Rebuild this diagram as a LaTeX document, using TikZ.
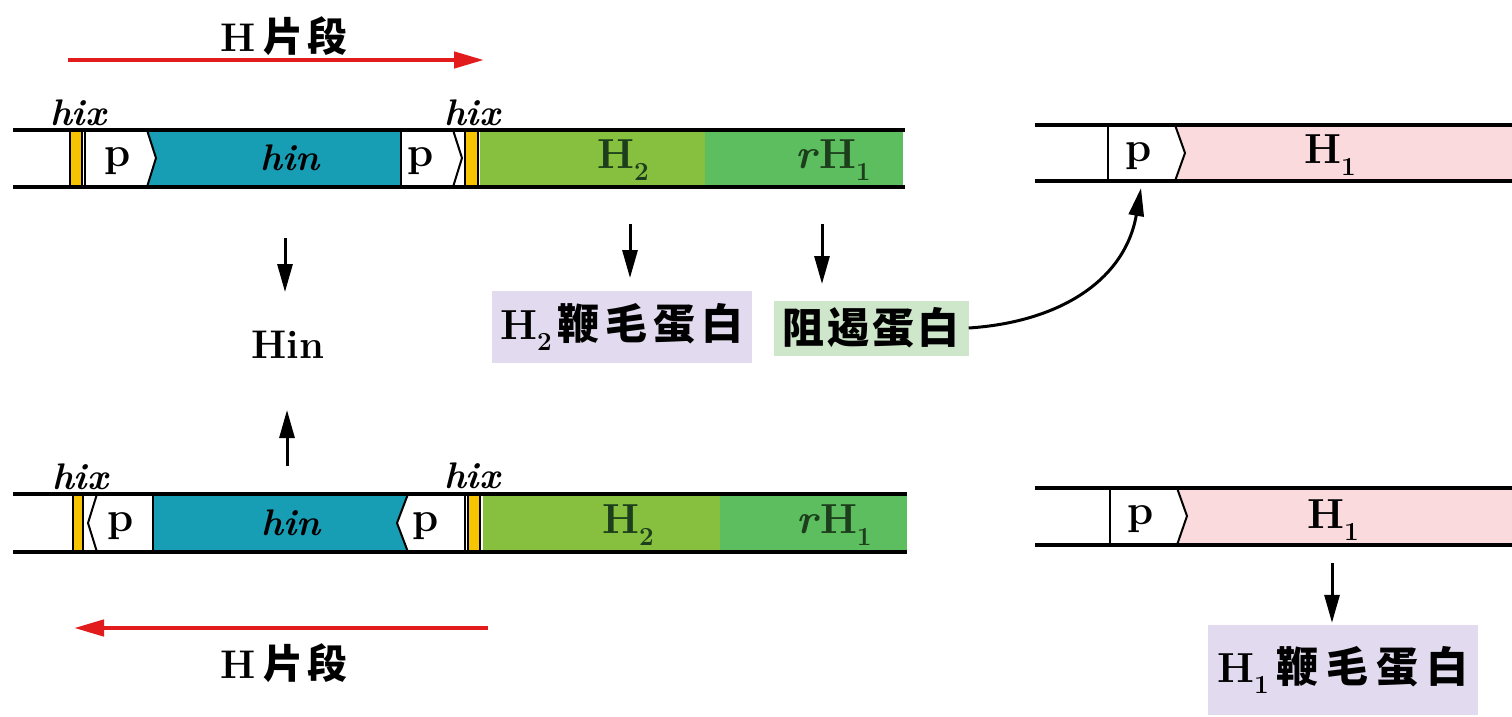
\documentclass[tikz,border=0pt]{standalone}
\usepackage{fontspec}
\newfontfamily\cjk{Noto Sans CJK SC}
\usetikzlibrary{arrows.meta}
\definecolor{hinc}{RGB}{24,158,180}
\definecolor{htwo}{RGB}{134,192,62}
\definecolor{rhone}{RGB}{92,190,94}
\definecolor{hixc}{RGB}{246,196,0}
\definecolor{pinkc}{RGB}{250,218,220}
\definecolor{lavc}{RGB}{226,218,238}
\definecolor{repc}{RGB}{206,230,202}
\definecolor{redc}{RGB}{226,28,28}
\definecolor{dgreen}{RGB}{28,62,28}
\newcommand\mysub[1]{\raisebox{-0.28em}{\scalebox{0.62}{#1}}}
\begin{document}
\begin{tikzpicture}[x=1pt,y=-1pt,
  strand/.style={line width=3.5pt,black,line cap=butt},
  edgeline/.style={line width=2pt,black},
  arr/.style={line width=3pt,-{Triangle[length=28pt,width=15pt]}},
  redarr/.style={line width=4.5pt,redc,-{Triangle[length=30pt,width=16pt]}},
  lbl/.style={inner sep=0pt,font=\fontsize{42}{46}\selectfont\bfseries},
  ital/.style={inner sep=0pt,font=\fontsize{37}{40}\selectfont\bfseries\itshape},
  pl/.style={inner sep=0pt,font=\fontsize{42}{44}\selectfont\bfseries},
  cjkbox/.style={inner sep=0pt,font=\fontsize{42}{46}\selectfont\cjk\bfseries}]
\useasboundingbox (0,0) rectangle (1512,716);

% ===== top row =====
\fill[hixc] (70,130) rectangle (82,187);
\draw[edgeline] (70,130) -- (70,187) (82,130) -- (82,187);
\fill[hinc] (148,130) -- (400,130) -- (400,187) -- (148,187) -- (156,158) -- cycle;
\draw[edgeline] (85,130) -- (85,187);
\draw[edgeline] (147,130) -- (156,158) -- (147,187);
\draw[edgeline] (401,130) -- (401,187);
\draw[edgeline] (453,130) -- (462,158) -- (453,187);
\fill[hixc] (465,130) rectangle (478,187);
\draw[edgeline] (465,130) -- (465,187) (478,130) -- (478,187);
\fill[htwo] (480,130) rectangle (705,187);
\fill[rhone] (705,130) rectangle (903,187);
\draw[strand] (13,130) -- (905,130);
\draw[strand] (13,187) -- (905,187);

\node[ital] (hixA) at (78,113) {hix};
\node[ital] (hixB) at (472,113) {hix};
\node[pl] (pA) at (118,161) {p};
\node[pl] (pB) at (421,161) {p};
\node[ital] (hinA) at (290,158) {hin};
\node[lbl,text=dgreen] (htwoA) at (623,160) {H\mysub{2}};
\node[lbl,text=dgreen] (rhA) at (833,160) {\textit{r}H\mysub{1}};

% ===== bottom row =====
\fill[hixc] (73,494) rectangle (83,552);
\draw[edgeline] (73,494) -- (73,552) (83,494) -- (83,552);
\draw[edgeline] (97,494) -- (88,523) -- (97,552);
\fill[hinc] (153,494) -- (408,494) -- (397,523) -- (408,552) -- (153,552) -- cycle;
\draw[edgeline] (153,494) -- (153,552);
\draw[edgeline] (408,494) -- (397,523) -- (408,552);
\draw[edgeline] (465,494) -- (465,552);
\fill[hixc] (468,494) rectangle (480,552);
\draw[edgeline] (468,494) -- (468,552) (480,494) -- (480,552);
\fill[htwo] (483,494) rectangle (720,552);
\fill[rhone] (720,494) rectangle (907,552);
\draw[strand] (13,494) -- (907,494);
\draw[strand] (13,552) -- (907,552);

\node[ital] (hixC) at (80,477) {hix};
\node[ital] (hixD) at (472,476) {hix};
\node[pl] (pC) at (121,526) {p};
\node[pl] (pD) at (426,526) {p};
\node[ital] (hinB) at (291,523) {hin};
\node[lbl,text=dgreen] (htwoB) at (628,525) {H\mysub{2}};
\node[lbl,text=dgreen] (rhB) at (834,525) {\textit{r}H\mysub{1}};

% ===== right rows =====
\fill[pinkc] (1176,125) -- (1512,125) -- (1512,181) -- (1176,181) -- (1185,153) -- cycle;
\draw[edgeline] (1108,125) -- (1108,181);
\draw[edgeline] (1175,125) -- (1185,153) -- (1175,181);
\draw[strand] (1035,125) -- (1512,125);
\draw[strand] (1035,181) -- (1512,181);
\node[pl] (pE) at (1139,156) {p};
\node[lbl] (hoA) at (1330,155) {H\mysub{1}};

\fill[pinkc] (1178,488) -- (1512,488) -- (1512,545) -- (1178,545) -- (1187,516) -- cycle;
\draw[edgeline] (1110,488) -- (1110,545);
\draw[edgeline] (1177,488) -- (1187,516) -- (1177,545);
\draw[strand] (1035,488) -- (1512,488);
\draw[strand] (1035,545) -- (1512,545);
\node[pl] (pF) at (1141,519) {p};
\node[lbl] (hoB) at (1333,520) {H\mysub{1}};

% ===== H segment arrows =====
\node[inner sep=0pt,font=\fontsize{40}{42}\selectfont\bfseries] (hsegA) at (284,36) {H\hspace{8pt}{\cjk\bfseries 片\hspace{4pt}段}};
\coordinate (ra1) at (68,60);
\coordinate (ra2) at (484,60);
\draw[redarr] (ra1) -- (ra2);
\node[inner sep=0pt,font=\fontsize{40}{42}\selectfont\bfseries] (hsegB) at (284,663) {H\hspace{8pt}{\cjk\bfseries 片\hspace{4pt}段}};
\coordinate (rb1) at (488,628);
\coordinate (rb2) at (74,628);
\draw[redarr] (rb1) -- (rb2);

% ===== product boxes =====
\node[cjkbox,fill=lavc,minimum width=260pt,minimum height=72pt] (boxH2) at (622,327) {{\rmfamily\bfseries H\mysub{2}}\hspace{6pt}鞭\hspace{6pt}毛\hspace{6pt}蛋\hspace{6pt}白};
\node[cjkbox,fill=repc,minimum width=195pt,minimum height=55pt] (boxRep) at (871,328) {阻\hspace{3pt}遏\hspace{3pt}蛋\hspace{3pt}白};
\node[cjkbox,fill=lavc,minimum width=270pt,minimum height=90pt] (boxH1) at (1343,670) {{\rmfamily\bfseries H\mysub{1}}\hspace{8pt}鞭\hspace{8pt}毛\hspace{8pt}蛋\hspace{8pt}白};
\node[inner sep=0pt,font=\fontsize{40}{42}\selectfont\bfseries] (hinP) at (288,345) {Hin};

% ===== small arrows =====
\coordinate (a1) at (285,238);
\coordinate (a1e) at (285,292);
\draw[arr] (a1) -- (a1e);
\coordinate (a2) at (287,466);
\coordinate (a2e) at (287,410);
\draw[arr] (a2) -- (a2e);
\coordinate (a3) at (630,224);
\coordinate (a3e) at (630,278);
\draw[arr] (a3) -- (a3e);
\coordinate (a4) at (822,224);
\coordinate (a4e) at (822,284);
\draw[arr] (a4) -- (a4e);
\coordinate (a5) at (1332,563);
\draw[arr] (a5) -- ([yshift=2pt]boxH1.north -| a5);
\coordinate (cend) at (1141,188);
\draw[arr] (boxRep.east) .. controls (1060,322) and (1125,280) .. (cend);
\end{tikzpicture}
\end{document}
